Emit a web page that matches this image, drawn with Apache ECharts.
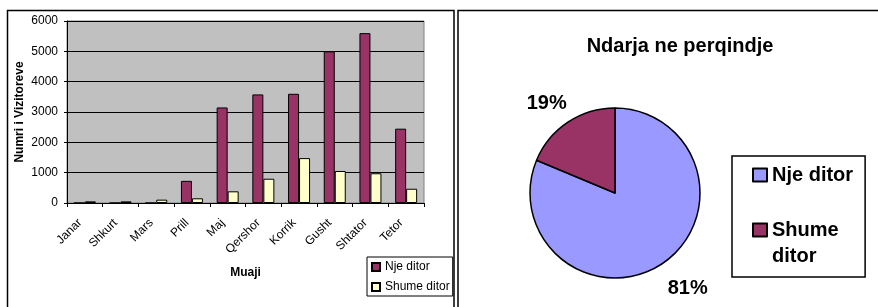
<!DOCTYPE html>
<html>
<head>
<meta charset="utf-8">
<script src="https://cdn.jsdelivr.net/npm/echarts@6/dist/echarts.min.js"></script>
<style>
  html, body { margin: 0; padding: 0; background: #fff; overflow: hidden; }
  #bar { position: absolute; left: 0; top: 0; width: 456px; height: 307px; }
  #pie { position: absolute; left: 456px; top: 0; width: 422px; height: 307px; }
</style>
</head>
<body>
<div id="bar"></div>
<div id="pie"></div>
<script>
  // data
  const months = ['Janar', 'Shkurt', 'Mars', 'Prill', 'Maj', 'Qershor', 'Korrik', 'Gusht', 'Shtator', 'Tetor']
  const njeDitor = [0, 0, 0, 730, 3150, 3580, 3600, 5000, 5600, 2450]
  const shumeDitor = [55, 55, 110, 155, 385, 800, 1480, 1055, 980, 470]
  const seriesNames = ['Nje ditor', 'Shume ditor']

  const font = 'Arial, "Liberation Sans", sans-serif'
  const colors = {nje: '#993366', shume: '#FFFFCC', njePie: '#9999FF'}

  // bar chart (left)
  const bar = echarts.init(document.getElementById('bar'))
  bar.setOption({
    animation: false,
    textStyle: {fontFamily: font},
    graphic: [{
      type: 'rect',
      shape: {x: 7.5, y: 10.5, width: 446.5, height: 320},
      style: {fill: 'none', stroke: '#000', lineWidth: 1.5},
      z: 100
    }],
    grid: {
      left: 67, right: 32, top: 21, bottom: 104,
      show: true,
      backgroundColor: '#C0C0C0',
      borderColor: '#808080',
      borderWidth: 1
    },
    legend: {
      data: seriesNames,
      icon: 'rect',
      orient: 'vertical',
      left: 367, top: 257,
      padding: [3, 3, 2, 4],
      itemGap: 6,
      itemWidth: 8, itemHeight: 8,
      backgroundColor: '#fff',
      borderColor: '#000', borderWidth: 1,
      textStyle: {fontFamily: font, fontSize: 12, color: '#000', lineHeight: 14}
    },
    xAxis: {
      type: 'category',
      data: months,
      name: 'Muaji',
      nameLocation: 'middle',
      nameGap: 64,
      nameMoveOverlap: false,
      nameTextStyle: {fontFamily: font, fontSize: 12, fontWeight: 'bold', color: '#000'},
      axisLine: {lineStyle: {color: '#000', width: 1}},
      axisTick: {show: true, length: 4, lineStyle: {color: '#000'}},
      axisLabel: {
        rotate: 45, interval: 0, margin: 13,
        fontFamily: font, fontSize: 12, color: '#000',
        padding: [0, 7, 0, 0]
      }
    },
    yAxis: {
      type: 'value',
      min: 0, max: 6000, interval: 1000,
      name: 'Numri i Vizitoreve',
      nameLocation: 'middle',
      nameRotate: 90,
      nameGap: 41,
      nameMoveOverlap: false,
      nameTextStyle: {fontFamily: font, fontSize: 12, fontWeight: 'bold', color: '#000'},
      axisLine: {show: true, lineStyle: {color: '#000', width: 1}},
      axisTick: {show: true, length: 3, lineStyle: {color: '#000'}},
      axisLabel: {fontFamily: font, fontSize: 12, color: '#000', margin: 9, formatter: v => String(v)},
      splitLine: {lineStyle: {color: '#000', width: 1}}
    },
    series: [{
      name: seriesNames[0],
      type: 'bar',
      data: njeDitor,
      barWidth: 11,
      barGap: '0%',
      itemStyle: {color: colors.nje, borderColor: '#000', borderWidth: 1}
    }, {
      name: seriesNames[1],
      type: 'bar',
      data: shumeDitor,
      barWidth: 11,
      barGap: '0%',
      itemStyle: {color: colors.shume, borderColor: '#000', borderWidth: 1}
    }]
  })

  // pie chart (right): totals of the two series
  const sum = arr => arr.reduce((a, b) => a + b, 0)
  const pieData = [
    {name: seriesNames[0], value: sum(njeDitor), itemStyle: {color: colors.njePie}, labelLine: {length: 30}},
    {name: seriesNames[1], value: sum(shumeDitor), itemStyle: {color: colors.nje}, labelLine: {length: 22}}
  ]

  const pie = echarts.init(document.getElementById('pie'))
  pie.setOption({
    animation: false,
    textStyle: {fontFamily: font},
    graphic: [{
      type: 'rect',
      shape: {x: 2, y: 10.5, width: 430, height: 320},
      style: {fill: 'none', stroke: '#000', lineWidth: 1.5},
      z: 100
    }],
    title: {
      text: 'Ndarja ne perqindje',
      left: 219, top: 31,
      textAlign: 'center',
      textStyle: {fontFamily: font, fontSize: 20, fontWeight: 'bold', color: '#000'}
    },
    legend: {
      data: seriesNames,
      // the long name wraps in two lines, its box sitting by the first one
      formatter: name => name === 'Shume ditor' ? '\nShume\nditor' : name,
      icon: 'rect',
      orient: 'vertical',
      left: 276, top: 156,
      padding: [6, 12, 8, 20],
      itemGap: 3,
      itemWidth: 14, itemHeight: 13,
      borderColor: '#000', borderWidth: 1.5,
      textStyle: {fontFamily: font, fontSize: 20, fontWeight: 'bold', color: '#000', lineHeight: 26}
    },
    series: [{
      type: 'pie',
      center: [159, 193],
      radius: 85,
      startAngle: 90,
      clockwise: true,
      avoidLabelOverlap: false,
      data: pieData,
      itemStyle: {borderColor: '#000', borderWidth: 1.5},
      label: {
        show: true,
        position: 'outside',
        formatter: p => Math.round(p.percent) + '%',
        fontFamily: font, fontSize: 20, fontWeight: 'bold', color: '#000',
        distanceToLabelLine: -11
      },
      labelLine: {show: false, length: 26, length2: 0}
    }]
  })
</script>
</body>
</html>
